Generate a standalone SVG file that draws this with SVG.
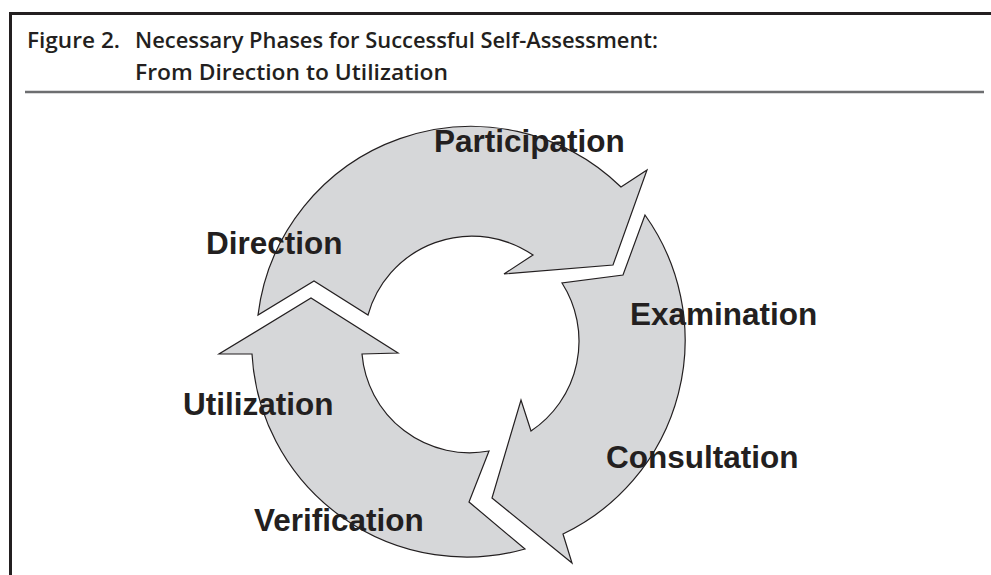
<svg xmlns="http://www.w3.org/2000/svg" width="991" height="575" viewBox="0 0 991 575">
  <style>
    .frame { stroke: #231f20; stroke-width: 3; fill: none; }
    .rule { stroke: #6d6e70; stroke-width: 2.5; fill: none; }
    .title { font-family: "Open Sans", "DejaVu Sans", sans-serif; font-weight: 600; font-size: 22px; fill: #231f20; }
    .arrow { fill: #d6d7d9; stroke: #231f20; stroke-width: 1.2; stroke-linejoin: miter; }
    .label { font-family: "Liberation Sans", Arial, sans-serif; font-weight: bold; font-size: 31.5px; fill: #231f20; }
  </style>
  <rect x="0" y="0" width="991" height="575" fill="#ffffff"/>
  <g id="frame">
    <line class="frame" x1="9" y1="13.5" x2="991" y2="13.5"/>
    <line class="frame" x1="10.5" y1="12" x2="10.5" y2="575"/>
    <line class="rule" x1="25" y1="92" x2="984" y2="92"/>
  </g>
  <g id="title">
    <text class="title" x="27" y="48" textLength="93" lengthAdjust="spacingAndGlyphs">Figure 2.</text>
    <text class="title" x="135" y="48" textLength="523" lengthAdjust="spacingAndGlyphs">Necessary Phases for Successful Self-Assessment:</text>
    <text class="title" x="135" y="80" textLength="313" lengthAdjust="spacingAndGlyphs">From Direction to Utilization</text>
  </g>
  <g id="connectors">
    <path id="arrow-direction-participation" class="arrow" d="M 258,315 A 215 215 0 0 1 621,187 L 647,170 L 613,265 L 504,274 L 533,255 A 108 108 0 0 0 368,315 L 314,281 Z"/>
    <path id="arrow-examination-consultation" class="arrow" d="M 645,215 A 215 215 0 0 1 563,534 L 572,563 L 492,498 L 521,400 L 531,431 A 108 108 0 0 0 562,283 L 623,275 Z"/>
    <path id="arrow-verification-utilization" class="arrow" d="M 525,549 A 215 215 0 0 1 252,354 L 219,354 L 311,298 L 398,353 L 362,354 A 108 108 0 0 0 489,451 L 469,502 Z"/>
  </g>
  <g id="node-direction"><text class="label" x="206" y="254">Direction</text></g>
  <g id="node-participation"><text class="label" x="434" y="152">Participation</text></g>
  <g id="node-examination"><text class="label" x="630" y="325">Examination</text></g>
  <g id="node-consultation"><text class="label" x="606" y="468">Consultation</text></g>
  <g id="node-verification"><text class="label" x="254" y="531">Verification</text></g>
  <g id="node-utilization"><text class="label" x="183" y="415">Utilization</text></g>
</svg>
